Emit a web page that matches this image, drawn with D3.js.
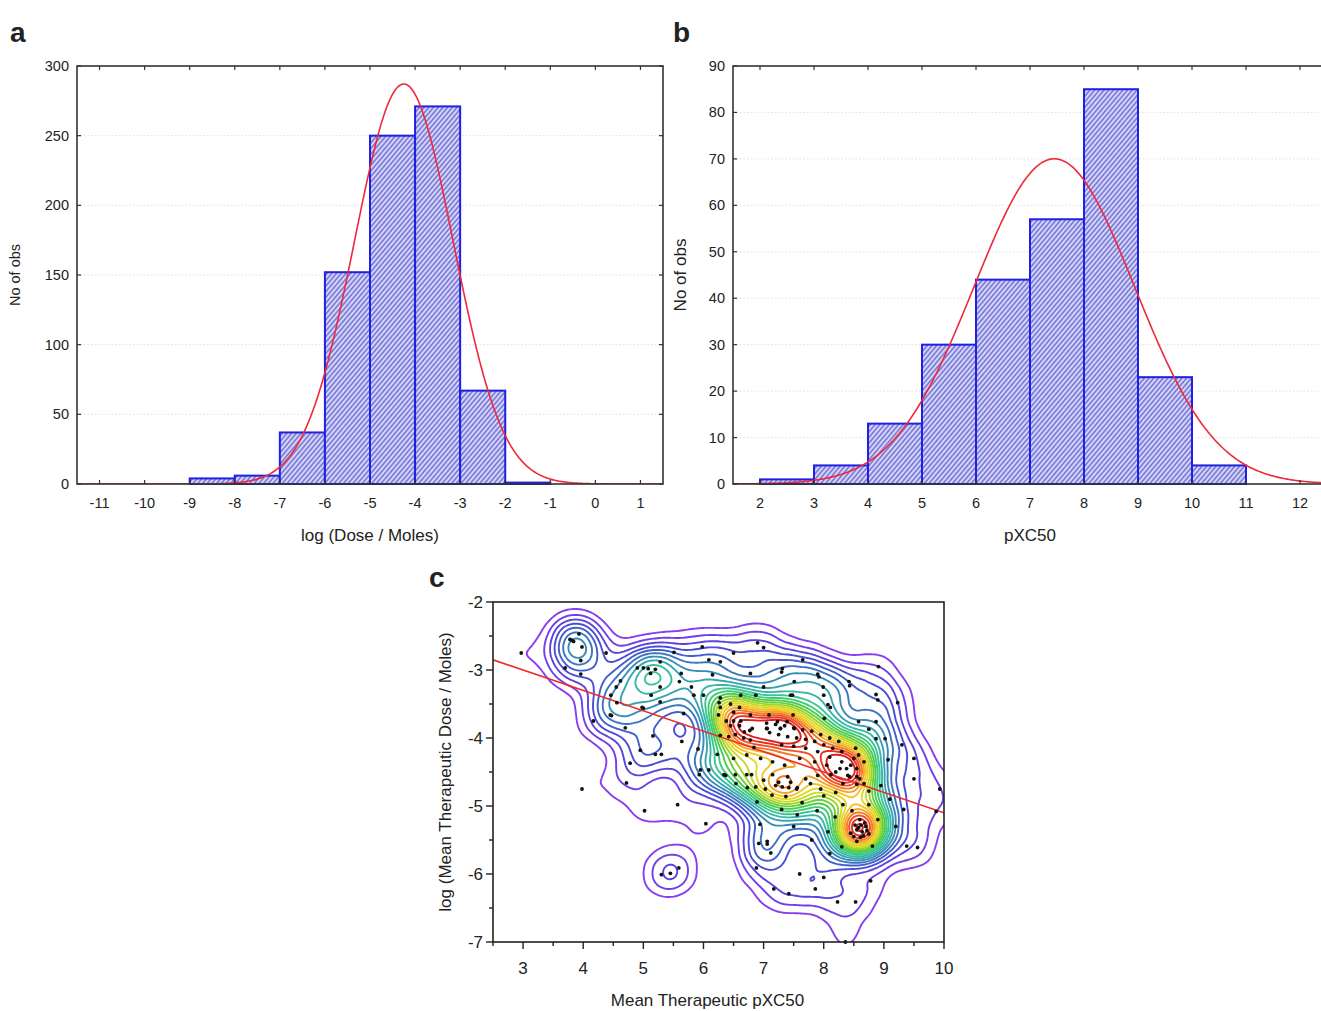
<!DOCTYPE html>
<html>
<head>
<meta charset="utf-8">
<script src="https://cdn.jsdelivr.net/npm/d3@7"></script>
<style>
  body { margin: 0; background: #fff; }
  svg { display: block; }
  text { font-family: "Liberation Sans", Arial, Helvetica, sans-serif; fill: #222; }
</style>
</head>
<body>
<svg id="fig" width="1321" height="1011"></svg>
<script>
// ---------- Panel a: log(Dose / Moles) histogram ----------
const doseBinStarts = [-9, -8, -7, -6, -5, -4, -3, -2];
const doseCounts    = [4, 6, 37, 152, 250, 271, 67, 1];
const doseXTicks    = [-11, -10, -9, -8, -7, -6, -5, -4, -3, -2, -1, 0, 1];
const doseYTicks    = [0, 50, 100, 150, 200, 250, 300];
const doseFitMean = -4.25, doseFitSd = 1.095;

// ---------- Panel b: pXC50 histogram ----------
const pxcBinStarts = [2, 3, 4, 5, 6, 7, 8, 9, 10];
const pxcCounts    = [1, 4, 13, 30, 44, 57, 85, 23, 4];
const pxcXTicks    = [2, 3, 4, 5, 6, 7, 8, 9, 10, 11, 12];
const pxcYTicks    = [0, 10, 20, 30, 40, 50, 60, 70, 80, 90];
const pxcFitMean = 7.45, pxcFitSd = 1.487;

// ---------- Panel c: mean therapeutic pXC50 vs log dose ----------
const meanPxc = [
  2.97,3.81,3.84,3.78,3.93,3.98,3.96,3.70,3.96,4.38,
  4.62,4.55,4.46,4.56,4.45,4.47,4.98,4.90,5.00,5.08,4.17,4.70,5.00,5.16,5.20,5.30,4.95,4.78,4.72,5.02,5.57,5.64,5.91,6.04,3.98,
  5.30,5.45,5.59,
  5.51,5.98,7.00,6.09,6.28,5.28,5.63,5.20,5.12,6.15,6.78,7.31,7.51,5.60,5.28,5.80,7.00,5.13,5.28,5.84,6.00,6.28,6.26,6.28,6.62,6.87,7.45,5.67,6.25,7.30,7.92,6.90,7.65,6.50,
  8.91,7.90,8.42,7.99,8.00,8.87,9.23,7.48,8.11,8.87,8.43,8.90,8.07,7.49,8.01,8.58,8.75,8.87,9.02,9.07,9.30,9.50,
  6.38,6.50,6.62,6.78,7.09,7.23,7.39,6.81,7.06,7.28,7.51,6.45,6.60,6.68,6.77,6.50,6.60,6.45,
  7.05,7.20,7.35,7.50,7.65,7.80,7.95,8.10,8.25,7.10,7.25,7.40,7.55,7.70,7.85,8.00,8.15,8.30,7.30,7.50,7.70,7.90,8.10,8.30,8.45,7.60,7.85,8.05,8.20,8.40,8.55,8.60,8.50,8.53,8.58,8.67,8.27,8.38,8.43,8.55,
  6.28,6.42,6.53,6.67,6.78,7.05,7.28,6.72,6.84,6.23,5.95,6.09,6.95,7.15,7.35,6.50,
  5.93,6.34,6.54,6.80,7.03,7.15,7.40,7.55,7.78,7.95,8.12,8.32,8.55,8.67,8.75,8.95,6.37,6.53,6.72,6.73,6.87,7.31,7.42,7.56,7.14,7.37,6.89,7.64,7.89,8.32,8.47,8.75,8.19,7.56,7.00,7.25,7.70,7.90,8.00,8.20,7.20,7.45,
  8.52,8.64,8.75,8.61,8.55,8.70,8.60,8.45,8.07,8.58,8.66,8.50,8.72,8.62,8.55,8.68,
  6.94,7.06,7.12,6.88,7.17,7.42,7.86,8.23,8.53,8.78,8.36,8.81,9.38,9.56,9.33,9.93,9.87,6.92,7.06,7.80,8.10,8.90,9.10,9.50,9.20,7.50,7.30,8.30,8.00,7.60
];
const meanLogDose = [
  -2.75,-2.56,-2.58,-2.55,-2.47,-2.66,-2.86,-2.97,-3.06,-2.75,
  -3.16,-3.25,-3.37,-3.48,-3.66,-3.67,-3.55,-2.97,-2.97,-2.98,-3.75,-3.85,-3.56,-3.97,-4.24,-4.24,-4.18,-4.37,-4.66,-5.07,-4.98,-4.05,-4.16,-5.26,-4.75,
  -6.01,-5.99,-5.91,
  -2.74,-2.66,-2.67,-2.85,-2.88,-2.88,-3.05,-2.99,-3.05,-3.07,-3.05,-2.98,-3.17,-3.17,-3.25,-3.25,-3.25,-3.37,-3.47,-3.37,-3.37,-3.41,-3.48,-3.55,-3.37,-3.37,-3.37,-3.64,-3.66,-3.03,-3.10,-2.60,-2.85,-2.75,
  -2.95,-3.06,-3.17,-3.25,-3.37,-3.36,-3.48,-3.37,-3.55,-3.76,-3.23,-3.44,-3.51,-3.66,-3.71,-3.76,-3.87,-4.01,-4.01,-4.32,-4.10,-4.30,
  -3.75,-3.75,-3.75,-3.66,-3.66,-3.76,-3.76,-3.86,-3.86,-3.86,-3.86,-3.82,-3.82,-3.91,-3.89,-3.62,-3.55,-3.50,
  -3.78,-3.80,-3.82,-3.85,-3.88,-3.90,-3.95,-4.00,-4.05,-3.92,-3.95,-3.98,-4.00,-4.02,-4.05,-4.10,-4.15,-4.20,-4.10,-4.12,-4.15,-4.20,-4.28,-4.35,-4.40,-4.30,-4.35,-4.40,-4.50,-4.55,-4.45,-4.60,-4.30,-4.15,-4.25,-4.35,-4.45,-4.45,-4.57,-4.68,
  -3.96,-3.98,-3.95,-4.00,-4.03,-3.86,-3.86,-4.25,-4.14,-4.24,-4.47,-4.47,-4.30,-4.35,-4.40,-4.30,
  -4.54,-4.54,-4.67,-4.54,-4.75,-4.54,-4.57,-4.75,-4.67,-4.75,-4.54,-4.67,-4.57,-4.67,-4.78,-4.70,-4.55,-4.54,-4.54,-4.73,-4.72,-4.72,-4.73,-4.73,-4.84,-4.86,-4.94,-4.95,-5.07,-4.98,-5.07,-4.98,-5.16,-5.13,-4.62,-4.65,-4.60,-4.55,-4.85,-4.80,-4.70,-4.65,
  -5.28,-5.38,-5.41,-5.46,-5.35,-5.30,-5.20,-5.40,-5.38,-5.32,-5.44,-5.45,-5.36,-5.28,-5.52,-5.25,
  -5.27,-5.56,-5.69,-5.91,-6.22,-6.29,-6.22,-6.41,-6.41,-6.10,-7.00,-5.59,-5.59,-5.61,-5.05,-4.75,-5.08,-5.55,-5.52,-5.50,-5.70,-5.20,-4.90,-4.60,-5.30,-5.30,-5.05,-5.60,-6.05,-6.00
];
const scatterXTicks = [3, 4, 5, 6, 7, 8, 9, 10];
const scatterYTicks = [-2, -3, -4, -5, -6, -7];
const fitIntercept = -2.10, fitSlope = -0.30;   // least-squares line: dose = a + b * pXC50

const svg = d3.select("#fig");
const defs = svg.append("defs");

// diagonal hatching used by the histogram bars
const hatch = defs.append("pattern")
  .attr("id", "hatch").attr("patternUnits", "userSpaceOnUse")
  .attr("width", 3.6).attr("height", 3.6)
  .attr("patternTransform", "rotate(40)");
hatch.append("rect").attr("width", 3.6).attr("height", 3.6).attr("fill", "#d6d6fa");
hatch.append("line").attr("x1", 0.9).attr("y1", 0).attr("x2", 0.9).attr("y2", 3.6)
  .attr("stroke", "#4a4ac4").attr("stroke-width", 1.1);

function normalCurve(mean, sd, total, domain) {
  const pts = [];
  for (let x = domain[0]; x <= domain[1] + 1e-9; x += 0.02) {
    const z = (x - mean) / sd;
    pts.push([x, total / (sd * Math.sqrt(2 * Math.PI)) * Math.exp(-0.5 * z * z)]);
  }
  return pts;
}

function histogram(opt) {
  const { left, top, width, height, xDomain, yMax, binStarts, counts, xTicks, yTicks,
          fitMean, fitSd, xTitle, yTitle, yTitleSize, clipId } = opt;
  const g = svg.append("g").attr("transform", `translate(${left},${top})`);
  const x = d3.scaleLinear().domain(xDomain).range([0, width]);
  const y = d3.scaleLinear().domain([0, yMax]).range([height, 0]);

  defs.append("clipPath").attr("id", clipId)
    .append("rect").attr("width", width).attr("height", height);

  // faint horizontal grid
  g.append("g").selectAll("line").data(yTicks.slice(1, -1)).join("line")
    .attr("x1", 0).attr("x2", width)
    .attr("y1", d => y(d)).attr("y2", d => y(d))
    .attr("stroke", "#d9d9d9").attr("stroke-width", 0.8).attr("stroke-dasharray", "1.5 2");

  // bars
  g.append("g").selectAll("rect").data(counts).join("rect")
    .attr("x", (d, i) => x(binStarts[i]))
    .attr("y", d => y(d))
    .attr("width", (d, i) => x(binStarts[i] + 1) - x(binStarts[i]))
    .attr("height", d => y(0) - y(d))
    .attr("fill", "url(#hatch)")
    .attr("stroke", "#1f1fe6").attr("stroke-width", 2);

  // fitted normal curve
  const total = d3.sum(counts);
  const line = d3.line().x(d => x(d[0])).y(d => y(d[1]));
  g.append("path").datum(normalCurve(fitMean, fitSd, total, xDomain))
    .attr("clip-path", `url(#${clipId})`)
    .attr("d", line).attr("fill", "none").attr("stroke", "#ee2a3a").attr("stroke-width", 1.6);

  // frame
  g.append("rect").attr("width", width).attr("height", height)
    .attr("fill", "none").attr("stroke", "#333").attr("stroke-width", 1.6);

  // inward ticks on all four sides
  const tk = g.append("g").attr("stroke", "#333").attr("stroke-width", 1.2);
  xTicks.forEach(t => {
    tk.append("line").attr("x1", x(t)).attr("x2", x(t)).attr("y1", height).attr("y2", height - 4);
    tk.append("line").attr("x1", x(t)).attr("x2", x(t)).attr("y1", 0).attr("y2", 4);
  });
  yTicks.forEach(t => {
    tk.append("line").attr("x1", 0).attr("x2", 4).attr("y1", y(t)).attr("y2", y(t));
    tk.append("line").attr("x1", width).attr("x2", width - 4).attr("y1", y(t)).attr("y2", y(t));
  });

  // tick labels
  g.append("g").selectAll("text").data(xTicks).join("text")
    .attr("x", d => x(d)).attr("y", height + 24)
    .attr("text-anchor", "middle").attr("font-size", 14.5).text(d => d);
  g.append("g").selectAll("text").data(yTicks).join("text")
    .attr("x", -8).attr("y", d => y(d) + 5)
    .attr("text-anchor", "end").attr("font-size", 14.5).text(d => d);

  g.append("text").attr("x", width / 2).attr("y", height + 57)
    .attr("text-anchor", "middle").attr("font-size", 17).text(xTitle);
  g.append("text")
    .attr("transform", `translate(${opt.yTitleX},${height / 2}) rotate(-90)`)
    .attr("text-anchor", "middle").attr("font-size", yTitleSize).text(yTitle);
}

histogram({
  left: 77, top: 66, width: 586, height: 418, xDomain: [-11.5, 1.5], yMax: 300,
  binStarts: doseBinStarts, counts: doseCounts, xTicks: doseXTicks, yTicks: doseYTicks,
  fitMean: doseFitMean, fitSd: doseFitSd, xTitle: "log (Dose / Moles)",
  yTitle: "No of obs", yTitleSize: 14.5, yTitleX: -57, clipId: "clipA"
});
histogram({
  left: 733, top: 66, width: 594, height: 418, xDomain: [1.5, 12.5], yMax: 90,
  binStarts: pxcBinStarts, counts: pxcCounts, xTicks: pxcXTicks, yTicks: pxcYTicks,
  fitMean: pxcFitMean, fitSd: pxcFitSd, xTitle: "pXC50",
  yTitle: "No of obs", yTitleSize: 17, yTitleX: -47, clipId: "clipB"
});

// ---------- Panel c ----------
{
  const left = 493, top = 602, width = 451, height = 340;
  const g = svg.append("g").attr("transform", `translate(${left},${top})`);
  const x = d3.scaleLinear().domain([2.5, 10]).range([0, width]);
  const y = d3.scaleLinear().domain([-7, -2]).range([height, 0]);
  const points = meanPxc.map((v, i) => [v, meanLogDose[i]]);

  defs.append("clipPath").attr("id", "clipC")
    .append("rect").attr("width", width).attr("height", height);

  const density = d3.contourDensity()
    .x(d => x(d[0])).y(d => y(d[1]))
    .size([width, height]).bandwidth(16).cellSize(2);
  const probe = density.thresholds(300)(points);
  const maxV = d3.max(probe, c => c.value);
  const nLevels = 22;
  const levels = d3.range(nLevels).map(i => maxV * (0.055 + 0.85 * i / (nLevels - 1)));
  const contours = density.thresholds(levels)(points);

  const rainbow = d3.interpolateRgbBasis([
    "#8a3cf0", "#5b3fe0", "#3f56cf", "#3a86b8", "#38b4b0", "#3ccf8a",
    "#46c83a", "#b6d82a", "#f4e024", "#f8a224", "#f04424", "#e01c1c"
  ]);
  const color = d3.scaleSequential(rainbow).domain([levels[0], levels[levels.length - 1]]);

  g.append("g").attr("clip-path", "url(#clipC)")
    .selectAll("path").data(contours).join("path")
    .attr("d", d3.geoPath())
    .attr("fill", "none")
    .attr("stroke", d => color(d.value))
    .attr("stroke-width", 1.9)
    .attr("stroke-linejoin", "round");

  // regression line
  g.append("line").attr("clip-path", "url(#clipC)")
    .attr("x1", x(2.5)).attr("y1", y(fitIntercept + fitSlope * 2.5))
    .attr("x2", x(10)).attr("y2", y(fitIntercept + fitSlope * 10))
    .attr("stroke", "#ee2a2a").attr("stroke-width", 1.6);

  // observations
  g.append("g").selectAll("circle").data(points).join("circle")
    .attr("cx", d => x(d[0])).attr("cy", d => y(d[1])).attr("r", 1.9)
    .attr("fill", "#111");

  g.append("rect").attr("width", width).attr("height", height)
    .attr("fill", "none").attr("stroke", "#222").attr("stroke-width", 1.6);

  // outward ticks with half-unit minor ticks
  const tk = g.append("g").attr("stroke", "#222").attr("stroke-width", 1.4);
  d3.range(2.5, 10.01, 0.5).forEach(t => {
    const major = Number.isInteger(t);
    tk.append("line").attr("x1", x(t)).attr("x2", x(t)).attr("y1", height).attr("y2", height + (major ? 7 : 4));
  });
  d3.range(-7, -1.99, 0.5).forEach(t => {
    const major = Number.isInteger(t);
    tk.append("line").attr("x1", 0).attr("x2", major ? -7 : -4).attr("y1", y(t)).attr("y2", y(t));
  });

  g.append("g").selectAll("text").data(scatterXTicks).join("text")
    .attr("x", d => x(d)).attr("y", height + 32)
    .attr("text-anchor", "middle").attr("font-size", 17).text(d => d);
  g.append("g").selectAll("text").data(scatterYTicks).join("text")
    .attr("x", -10).attr("y", d => y(d) + 6)
    .attr("text-anchor", "end").attr("font-size", 17).text(d => d);

  g.append("text").attr("x", width / 2 - 11).attr("y", height + 64)
    .attr("text-anchor", "middle").attr("font-size", 17).text("Mean Therapeutic pXC50");
  g.append("text")
    .attr("transform", `translate(-42,${height / 2}) rotate(-90)`)
    .attr("text-anchor", "middle").attr("font-size", 17).text("log (Mean Therapeutic Dose / Moles)");
}

// panel letters
[["a", 10, 42], ["b", 673, 42], ["c", 429, 587]].forEach(([t, px, py]) => {
  svg.append("text").attr("x", px).attr("y", py)
    .attr("font-size", 28).attr("font-weight", "bold").attr("fill", "#111").text(t);
});
</script>
</body>
</html>
